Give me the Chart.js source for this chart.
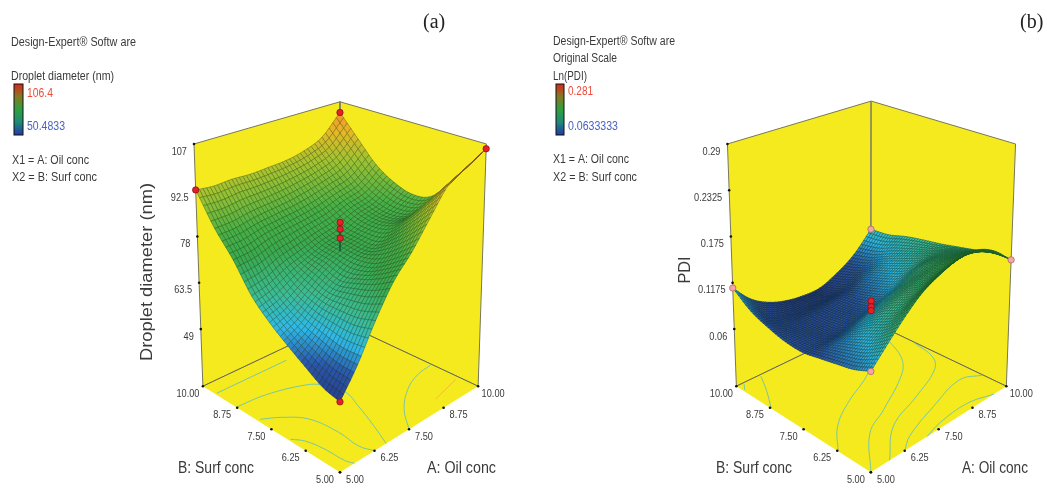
<!DOCTYPE html>
<html><head><meta charset="utf-8">
<style>html,body{margin:0;padding:0;background:#fff}canvas{display:block}</style>
<script src="https://cdn.jsdelivr.net/npm/chart.js@4"></script>
</head><body><canvas id="c" width="1047" height="488"></canvas>
<script>
// ---------- data ----------
const oilLevels=[5,5.625,6.25,6.875,7.5,8.125,8.75,9.375,10];
const surfLevels=[5,5.625,6.25,6.875,7.5,8.125,8.75,9.375,10];
const tickLevels=[5,6.25,7.5,8.75,10];
const tickLabels=['5.00','6.25','7.50','8.75','10.00'];
const dropletTicks=[107,92.5,78,63.5,49];
const dropletTickLabels=['107','92.5','78','63.5','49'];
const pdiTicks=[0.29,0.2325,0.175,0.1175,0.06];
const pdiTickLabels=['0.29','0.2325','0.175','0.1175','0.06'];
// rows: Surf conc 5 -> 10, columns: Oil conc 5 -> 10
const dropletDiameter=[
[51,58.8,68.8,77.6,83.8,91.6,99.3,102.3,105.5],
[52.4,58.8,67.1,74.4,79.5,85.9,92.4,95,98.2],
[55.5,60.2,66.7,72.2,75.8,80.8,85.8,87.7,90.7],
[58.9,62,66.8,70.7,74.5,76.6,80.4,81.7,84.7],
[62.8,64.9,68.6,72.5,75,76.5,78.8,80.2,83.6],
[68,69.4,72.1,74,76,77.3,79.8,81.4,85.5],
[76.2,76.7,78.3,79.2,80,81.1,83,84.7,89.4],
[83.2,83.4,84.4,84.9,85.5,86.6,88,90.3,96.1],
[92.6,92,92.3,92,92.3,92.7,94,96.7,103.3]];
const pdiValues=[
[.102,.1235,.1443,.162,.1727,.1798,.1798,.168,.146],
[.0934,.109,.1245,.138,.149,.157,.162,.1585,.1473],
[.0886,.1,.113,.1255,.135,.143,.149,.148,.1416],
[.084,.0915,.098,.1075,.1165,.125,.136,.1381,.1368],
[.0798,.0812,.0826,.0875,.093,.1025,.1153,.1267,.132],
[.0808,.0789,.0778,.0813,.0848,.0933,.1049,.1174,.1283],
[.0862,.0777,.0758,.0775,.0807,.0858,.0962,.1075,.1238],
[.0947,.0794,.0719,.0692,.0693,.0724,.0827,.0961,.117],
[.111,.0885,.0751,.0676,.0643,.0649,.0748,.0899,.115]];
const dropletPoints=[[5,5,51,'r'],[5,10,92.6,'r'],[10,10,103.3,'r'],[10,5,105.5,'r'],[7.5,7.5,83.9,'r'],[7.5,7.5,81.8,'r'],[7.5,7.5,79,'r']];
const pdiPoints=[[5,5,.102,'p'],[5,10,.111,'p'],[10,10,.115,'p'],[10,5,.146,'p'],[7.5,7.5,.101,'r'],[7.5,7.5,.0938,'r'],[7.5,7.5,.089,'r']];
// floor contours as [oil, surf] pairs
const dropletContours=[
[[5.06,9.55],[7.56,9.52]],
[[5.03,8.78],[6,8.69],[7.07,8.34],[7.39,8.04],[7.58,7.4],[7.34,6.67],[6.99,5.76],[6.67,5]],
[[5.09,8],[5.59,7.68],[6.04,7.15],[6.17,6.22],[6.11,5.44],[6.25,5]],
[[5.06,6.86],[5.28,6.55],[5.4,5.97],[5.43,5.26],[5.52,5]],
[[7.5,5],[8.04,5.72],[8.75,6.3],[9.4,6.6],[9.95,6.68]]];
const dropletOrangeContours=[[[8.9,5.44],[9.86,5.68]]];
const pdiContours=[
[[5.23,9.94],[5.05,9.74]],
[[5.85,9.94],[5.49,9.37],[5,8.7]],
[[8.33,8.33],[7.77,8.02],[6.67,7.54],[5.75,6.99],[5.01,6.23]],
[[9.6,8.94],[9.22,8.1],[8.66,7.52],[7.15,6.68],[6.15,6.19],[5,5]],
[[9.98,8.4],[9.78,7.49],[9.35,7.01],[8.15,6.48],[6.8,5.97],[5.69,5]],
[[9.99,5.87],[9.44,6.18],[8.13,5.82],[6.78,5.35],[6.25,5]],
[[9.55,5],[8.78,5.25],[7.69,5.17],[7.08,5]]];

// ---------- layout and styling ----------
const RAMP=[[0,[39,62,140]],[.1,[42,85,170]],[.2,[47,185,232]],[.3,[60,188,150]],[.45,[58,170,80]],[.55,[70,176,72]],[.72,[160,195,50]],[.85,[230,185,40]],[.93,[242,150,40]],[1,[230,50,30]]];
function ramp(t){t=Math.max(0,Math.min(1,t));for(let i=1;i<RAMP.length;i++){if(t<=RAMP[i][0]){const A=RAMP[i-1],B=RAMP[i],f=(t-A[0])/(B[0]-A[0]);return 'rgb('+A[1].map((c,k)=>Math.round(c+(B[1][k]-c)*f)).join(',')+')';}}return 'rgb(230,50,30)';}
const panelA={zMin:31.1,zMax:107,low:50.4833,high:106.4,cells:40,meshW:.5,meshA:.5,table:dropletDiameter,pts:dropletPoints,ticks:dropletTicks,tickText:dropletTickLabels,contours:dropletContours,
 floor:{F:[338.3,476.7],R:[477.7,389],L:[200,389],B:[338.3,323]},top:{F:[338.3,203],R:[486,142],L:[191,142],B:[338.3,99]},stem:[83.9,75]};
const panelB={zMin:-.011,zMax:.29,low:.0633333,high:.281,cells:56,meshW:.45,meshA:.7,table:pdiValues,pts:pdiPoints,ticks:pdiTicks,tickText:pdiTickLabels,contours:pdiContours,
 floor:{F:[874,476.7],R:[1010.7,389],L:[738.3,389],B:[874,323]},top:{F:[874,203],R:[1020,142],L:[729.3,142],B:[874.3,98.3]},stem:null};
function bil(q,a,b,k){return q.F[k]*(1-a)*(1-b)+q.R[k]*a*(1-b)+q.L[k]*(1-a)*b+q.B[k]*a*b;}
function project(p,oil,surf,v){const a=(oil-5)/5,b=(surf-5)/5,z=(v-p.zMin)/(p.zMax-p.zMin);
 return {x:bil(p.floor,a,b,0)+(bil(p.top,a,b,0)-bil(p.floor,a,b,0))*z,y:bil(p.floor,a,b,1)+(bil(p.top,a,b,1)-bil(p.floor,a,b,1))*z};}
function cr(p0,p1,p2,p3,t){return .5*(2*p1+(p2-p0)*t+(2*p0-5*p1+4*p2-p3)*t*t+(3*p1-p0-3*p2+p3)*t*t*t);}
function smooth(tb,u,v){ // Catmull-Rom display smoothing of the table, like a line tension
 const N=tb.length-1,fx=Math.min(N-1e-6,u*N),fy=Math.min(N-1e-6,v*N),i=Math.floor(fx),j=Math.floor(fy),tx=fx-i,ty=fy-j;
 const g=(r,c)=>{if(r<0)return 2*g(0,c)-g(1,c);if(r>N)return 2*g(N,c)-g(N-1,c);if(c<0)return 2*tb[r][0]-tb[r][1];if(c>N)return 2*tb[r][N]-tb[r][N-1];return tb[r][c];};
 const row=r=>cr(g(r,i-1),g(r,i),g(r,i+1),g(r,i+2),tx);
 return cr(row(j-1),row(j),row(j+1),row(j+2),ty);}
const YEL='#f4ea1e',EDGE='#77775a';
function line(data,o){return Object.assign({data,showLine:true,pointRadius:0,borderWidth:1,borderColor:EDGE,tension:0,fill:false},o);}
function buildPanel(p){
 const ds=[],zl=p.zMin,zh=p.zMax,P=(a,b,v)=>project(p,a,b,v);
 ds.push(line([P(5,10,zl),P(5,10,zh),P(10,10,zh),P(10,10,zl),P(5,10,zl)],{fill:'shape',backgroundColor:YEL,order:60}));
 ds.push(line([P(10,5,zl),P(10,5,zh),P(10,10,zh),P(10,10,zl),P(10,5,zl)],{fill:'shape',backgroundColor:YEL,order:59}));
 ds.push(line([P(5,5,zl),P(10,5,zl),P(10,10,zl),P(5,10,zl),P(5,5,zl)],{fill:'shape',backgroundColor:YEL,borderColor:'rgba(0,0,0,0)',order:58}));
 ds.push(line([P(5,10,zl),P(10,10,zl),P(10,5,zl)],{order:57,borderColor:'#6a6a50'}));
 ds.push(line([P(10,10,zl),P(10,10,zh)],{order:57,borderColor:'#8a8a70'}));
 p.contours.forEach(c=>ds.push(line(c.map(q=>P(q[0],q[1],zl)),{tension:.4,borderColor:'#7cc6a4',borderWidth:1,order:50})));
 if(p===panelA)dropletOrangeContours.forEach(c=>ds.push(line(c.map(q=>P(q[0],q[1],zl)),{borderColor:'#f0c030',borderWidth:1,order:50})));
 const tk=[];tickLevels.forEach(t=>{tk.push(P(t,5,zl));tk.push(P(5,t,zl));});
 p.ticks.forEach(t=>tk.push(P(5,10,t)));
 ds.push({data:tk,pointRadius:1.3,pointBackgroundColor:'#111',pointBorderWidth:0,showLine:false,order:45});
 // surface: display mesh derived from the table
 const n=p.cells,grid=[],vals=[];
 for(let j=0;j<=n;j++)for(let i=0;i<=n;i++){const u=i/n,v=j/n,val=smooth(p.table,u,v);vals.push(val);grid.push(P(5+5*u,5+5*v,val));}
 ds.push({data:grid,isSurface:true,panel:p,vals,pointRadius:0,showLine:false,order:30});
 if(p.stem)ds.push(line([P(7.5,7.5,p.stem[0]),P(7.5,7.5,p.stem[1])],{borderColor:'#1d5a3a',order:20}));
 const mk=p.pts.map(q=>P(q[0],q[1],q[2]));
 ds.push({data:mk,showLine:false,order:10,pointRadius:3.2,pointBorderWidth:.7,
  pointBackgroundColor:p.pts.map(q=>q[3]==='r'?'#e5202a':'#f2a6a8'),pointBorderColor:p.pts.map(q=>q[3]==='r'?'#7a1010':'#a06060')});
 return ds;}

const SANS='"Liberation Sans"',G='#3a3a3a';
// text, left x, centre y, size, fitted width, colour
const textRows=[
['Design-Expert® Softw are',11,43,12.5,125,G],['Droplet diameter (nm)',11,77,12.5,103,G],['106.4',27,94,12.5,26,'#ef4a3a'],['50.4833',27,127,12.5,38,'#4a62c0'],
['X1 = A: Oil conc',12,161,12.5,77,G],['X2 = B: Surf conc',12,178,12.5,85,G],
['B: Surf conc',178,468,17,76,G],['A: Oil conc',427,468,17,69,G],
['Design-Expert® Softw are',553,42,12.5,122,G],['Original Scale',553,59,12.5,64,G],['Ln(PDI)',553,77,12.5,34,G],['0.281',568,92,12.5,25,'#ef4a3a'],['0.0633333',568,127,12.5,50,'#4a62c0'],
['X1 = A: Oil conc',553,160,12.5,76,G],['X2 = B: Surf conc',553,178,12.5,84,G],
['B: Surf conc',716,468,17,76,G],['A: Oil conc',962,468,17,66,G]];
const rotatedRows=[['Droplet diameter (nm)',148,272,16,178],['PDI',686,270,16,27]];
const panelLetters=[['(a)',423,23],['(b)',1020,23]];
const colorBars=[[14,84,9,51],[556,84,8,51]];

function put(ctx,text,x,y,font,color,align,sx){ctx.save();ctx.translate(x,y);ctx.scale(sx,1);ctx.font=font;ctx.fillStyle=color;ctx.textAlign=align;ctx.textBaseline='middle';ctx.fillText(text,0,0);ctx.restore();}
const painter={id:'painter',
 beforeDatasetDraw(chart,args){
  const d=chart.data.datasets[args.index];if(!d.isSurface)return;
  const c=chart.ctx,xs=chart.scales.x,ys=chart.scales.y,p=d.panel,n=p.cells,m=n+1;
  const X=(i,j)=>xs.getPixelForValue(d.data[j*m+i].x),Y=(i,j)=>ys.getPixelForValue(d.data[j*m+i].y);
  c.save();c.lineJoin='round';
  for(let j=n-1;j>=0;j--)for(let i=n-1;i>=0;i--){
   const v=(d.vals[j*m+i]+d.vals[j*m+i+1]+d.vals[(j+1)*m+i]+d.vals[(j+1)*m+i+1])/4,col=ramp((v-p.low)/(p.high-p.low));
   c.beginPath();c.moveTo(X(i,j),Y(i,j));c.lineTo(X(i+1,j),Y(i+1,j));c.lineTo(X(i+1,j+1),Y(i+1,j+1));c.lineTo(X(i,j+1),Y(i,j+1));c.closePath();
   c.fillStyle=col;c.fill();c.strokeStyle=col;c.lineWidth=.4;c.stroke();
   c.strokeStyle='rgba(0,20,10,'+p.meshA+')';c.lineWidth=p.meshW;c.stroke();
  }
  c.restore();
 },
 afterDraw(chart){
  const c=chart.ctx,xs=chart.scales.x,ys=chart.scales.y;
  const fit=(r)=>{c.font=r[3]+'px '+SANS;return r[4]/c.measureText(r[0]).width;};
  textRows.forEach(r=>put(c,r[0],r[1],r[2],r[3]+'px '+SANS,r[5],'left',fit(r)));
  rotatedRows.forEach(r=>{const s=fit(r);c.save();c.translate(r[1],r[2]);c.rotate(-Math.PI/2);put(c,r[0],0,0,r[3]+'px '+SANS,G,'center',s);c.restore();});
  panelLetters.forEach(r=>put(c,r[0],r[1],r[2],'20px "Liberation Serif"','#222','left',1));
  [panelA,panelB].forEach(p=>{
   const f='11.5px '+SANS,zl=p.zMin;
   p.ticks.forEach((t,i)=>{const q=project(p,5,10,t);put(c,p.tickText[i],xs.getPixelForValue(q.x)-7,ys.getPixelForValue(q.y)+7.5,f,G,'right',.8);});
   tickLevels.forEach((t,i)=>{
    const q=project(p,t,5,zl),r=project(p,5,t,zl);
    put(c,tickLabels[i],xs.getPixelForValue(q.x)+15,ys.getPixelForValue(q.y)+7.5,f,G,'center',.8);
    put(c,tickLabels[i],xs.getPixelForValue(r.x)-15,ys.getPixelForValue(r.y)+7.5,f,G,'center',.8);
   });
  });
  colorBars.forEach(b=>{const g=c.createLinearGradient(0,b[1],0,b[1]+b[3]);
   g.addColorStop(0,'#d8281c');g.addColorStop(.25,'#857a22');g.addColorStop(.5,'#2ea040');g.addColorStop(.75,'#1f8a78');g.addColorStop(1,'#2238a8');
   c.fillStyle=g;c.fillRect(b[0],b[1],b[2],b[3]);c.strokeStyle='#111';c.lineWidth=1;c.strokeRect(b[0],b[1],b[2],b[3]);});
 }};
new Chart(document.getElementById('c'),{type:'scatter',
 data:{datasets:buildPanel(panelA).concat(buildPanel(panelB))},
 options:{responsive:false,animation:false,devicePixelRatio:1,events:[],layout:{padding:0},
  plugins:{legend:{display:false},tooltip:{enabled:false},title:{display:false}},
  scales:{x:{type:'linear',min:0,max:1047,display:false},y:{type:'linear',min:0,max:488,reverse:true,display:false}}},
 plugins:[painter]});
</script></body></html>
